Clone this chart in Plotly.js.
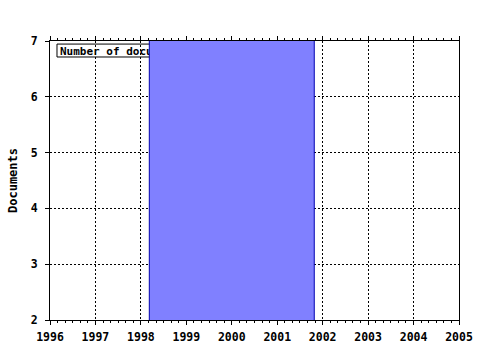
<!DOCTYPE html>
<html>
<head>
<meta charset="utf-8">
<script src="https://cdn.plot.ly/plotly-3.0.1.min.js"></script>
<style>html,body{margin:0;padding:0;background:#fff;}#chart{width:480px;height:350px;}</style>
</head>
<body>
<div id="chart"></div>
<script>
const years = [2000];
const documents = [9];
const seriesName = "Number of documents";
const yearTicks = [1996, 1997, 1998, 1999, 2000, 2001, 2002, 2003, 2004, 2005];

const fontFam = "DejaVu Sans Mono, Liberation Mono, monospace";

const trace = {
  type: 'bar',
  x: years,
  y: documents,
  name: seriesName,
  width: [3.63],
  marker: {color: '#8080ff', line: {color: '#0000b0', width: 1}},
  showlegend: false,
  hoverinfo: 'skip'
};

const layout = {
  width: 480, height: 350,
  margin: {l: 50, r: 21, t: 41, b: 30, pad: 0},
  paper_bgcolor: '#fff', plot_bgcolor: '#fff',
  font: {family: fontFam, size: 11, color: '#000', weight: 'bold'},
  showlegend: false,
  xaxis: {
    range: [1996, 2005], tickvals: yearTicks, ticktext: yearTicks.map(String),
    showline: true, linecolor: '#000', linewidth: 1, mirror: 'ticks',
    ticks: 'outside', ticklen: 4, tickcolor: '#000', ticklabelstandoff: 2,
    minor: {dtick: 1/6, tick0: 1996, ticks: 'outside', ticklen: 2, tickcolor: '#000', showgrid: false},
    showgrid: true, gridcolor: '#000', gridwidth: 1, griddash: '2px,2px',
    zeroline: false, tickfont: {family: fontFam, size: 11.5, color: '#000', weight: 'bold'}
  },
  yaxis: {
    range: [2, 7], dtick: 1, tick0: 2,
    showline: true, linecolor: '#000', linewidth: 1, mirror: true,
    ticks: 'outside', ticklen: 4, tickcolor: '#000', ticklabelstandoff: 5,
    showgrid: true, gridcolor: '#000', gridwidth: 1, griddash: '2px,2px',
    zeroline: false, tickfont: {family: fontFam, size: 11.5, color: '#000', weight: 'bold'},
    title: {text: 'Documents', standoff: 10, font: {family: fontFam, size: 12, color: '#000', weight: 'bold'}}
  },
  shapes: [{
    type: 'rect', xref: 'paper', yref: 'paper', layer: 'between',
    x0: 0.0171, x1: 0.345, y0: 0.9427, y1: 0.989,
    fillcolor: '#fff', line: {color: '#000', width: 1},
    label: {text: seriesName, textposition: 'middle left', padding: 0,
            font: {family: fontFam, size: 11, color: '#000', weight: 'bold'}}
  }]
};

Plotly.newPlot('chart', [trace], layout, {staticPlot: true, displayModeBar: false});
</script>
</body>
</html>
